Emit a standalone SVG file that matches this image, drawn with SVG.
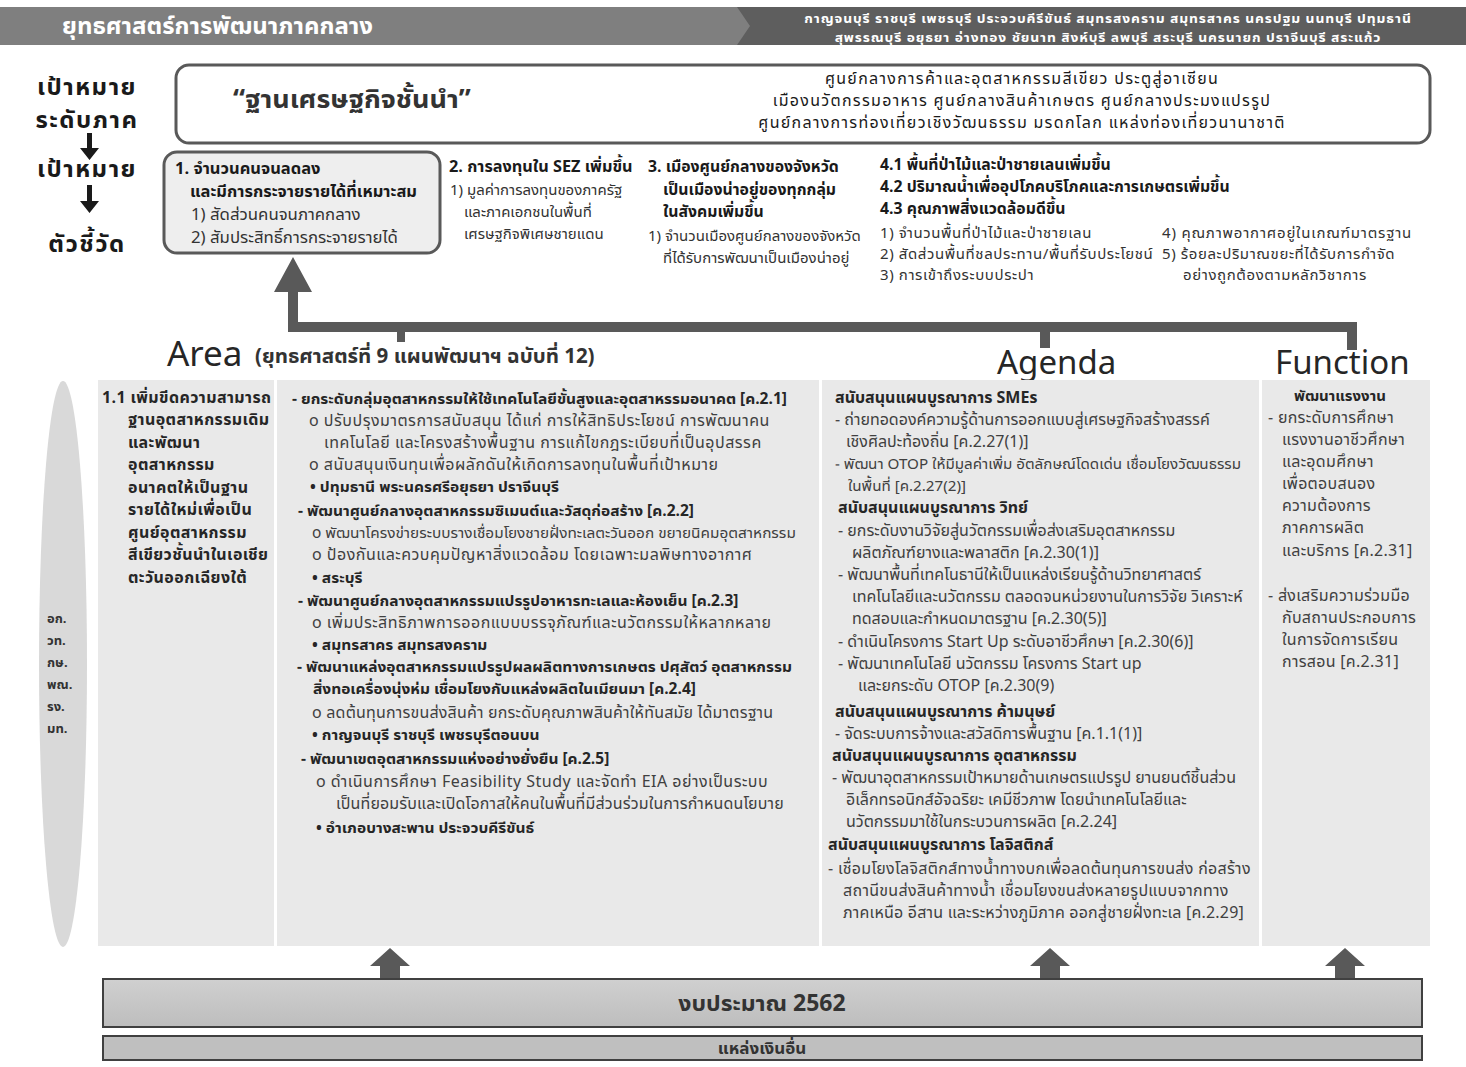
<svg xmlns="http://www.w3.org/2000/svg" width="1466" height="1067" viewBox="0 0 1466 1067">
<style>
text{font-family:"Noto Sans Thai UI","Noto Sans Thai","Tahoma","Loma","Garuda","DejaVu Sans",sans-serif;fill:#333}
.hd{fill:#fff;font-weight:bold}
.lbl{font-size:24px;font-weight:bold;fill:#1a1a1a;text-anchor:middle;letter-spacing:1.5px}
.goal{font-size:16px;fill:#1a1a1a;text-anchor:middle;letter-spacing:1.3px}
.ib{font-size:15.8px;font-weight:bold;fill:#1a1a1a}
.ir{font-size:15px;fill:#333}
.big{font-size:33px;fill:#262626}
.b1{font-size:16px;font-weight:bold;fill:#262626;letter-spacing:0.4px}
.b{font-size:15.5px;font-weight:bold;fill:#262626}
.r{font-size:16px;fill:#404040;letter-spacing:0.5px}
.ag{font-size:16px;fill:#404040}
.agb{font-size:16px;font-weight:bold;fill:#262626}
.fn{font-size:16px;fill:#404040;letter-spacing:0.3px}
.panel{fill:#e9e9e9}
.arr{fill:#595959}
.ab{font-size:13px;font-weight:bold;fill:#333}
</style>
<defs>
<linearGradient id="bud" x1="0" y1="0" x2="0" y2="1">
<stop offset="0" stop-color="#d0d0d0"/>
<stop offset="1" stop-color="#bdbdbd"/>
</linearGradient>
</defs>

<g id="header">
<rect x="600" y="7" width="866" height="38" fill="#5e5e5e"/>
<polygon points="0,7 737,7 750,26 737,45 0,45" fill="#7f7f7f"/>
<text class="hd" x="62" y="34" font-size="24">ยุทธศาสตร์การพัฒนาภาคกลาง</text>
<text class="hd" x="1108" y="23" font-size="13.8" letter-spacing="0.9" text-anchor="middle">กาญจนบุรี ราชบุรี เพชรบุรี ประจวบคีรีขันธ์ สมุทรสงคราม สมุทรสาคร นครปฐม นนทบุรี ปทุมธานี</text>
<text class="hd" x="1108" y="42" font-size="13.8" letter-spacing="0.9" text-anchor="middle">สุพรรณบุรี อยุธยา อ่างทอง ชัยนาท สิงห์บุรี ลพบุรี สระบุรี นครนายก ปราจีนบุรี สระแก้ว</text>
</g>

<g id="left-labels">
<text class="lbl" x="87" y="95">เป้าหมาย</text>
<text class="lbl" x="87" y="128">ระดับภาค</text>
<text class="lbl" x="87" y="177">เป้าหมาย</text>
<text class="lbl" x="87" y="252">ตัวชี้วัด</text>
<path d="M87 133 h5 v15 h7 l-9.5 12 l-9.5 -12 h7 z" fill="#1a1a1a"/>
<path d="M87 185 h5 v16 h7 l-9.5 12 l-9.5 -12 h7 z" fill="#1a1a1a"/>
</g>

<g id="goal">
<rect x="176" y="65" width="1254" height="78" rx="13" fill="#fff" stroke="#595959" stroke-width="3"/>
<text x="233" y="108" font-size="27" font-weight="bold" fill="#1a1a1a">“ฐานเศรษฐกิจชั้นนำ”</text>
<text class="goal" x="1022" y="84">ศูนย์กลางการค้าและอุตสาหกรรมสีเขียว ประตูสู่อาเซียน</text>
<text class="goal" x="1022" y="106">เมืองนวัตกรรมอาหาร ศูนย์กลางสินค้าเกษตร ศูนย์กลางประมงแปรรูป</text>
<text class="goal" x="1022" y="128">ศูนย์กลางการท่องเที่ยวเชิงวัฒนธรรม มรดกโลก แหล่งท่องเที่ยวนานาชาติ</text>
</g>

<g id="indicator1">
<rect x="164" y="152" width="276" height="101" rx="13" fill="#eeeeee" stroke="#595959" stroke-width="3"/>
<text class="ib" x="175" y="174" style="font-size:16.5px">1. จำนวนคนจนลดลง</text>
<text class="ib" x="190" y="197" style="font-size:16.5px">และมีการกระจายรายได้ที่เหมาะสม</text>
<text class="ir" x="191" y="220" style="font-size:16.8px">1) สัดส่วนคนจนภาคกลาง</text>
<text class="ir" x="191" y="243" style="font-size:16.8px">2) สัมประสิทธิ์การกระจายรายได้</text>
</g>

<g id="indicator2">
<text class="ib" x="449" y="172" style="font-size:16.3px">2. การลงทุนใน SEZ เพิ่มขึ้น</text>
<text class="ir" x="450" y="195">1) มูลค่าการลงทุนของภาครัฐ</text>
<text class="ir" x="464" y="217">และภาคเอกชนในพื้นที่</text>
<text class="ir" x="464" y="239">เศรษฐกิจพิเศษชายแดน</text>
</g>

<g id="indicator3">
<text class="ib" x="648" y="172">3. เมืองศูนย์กลางของจังหวัด</text>
<text class="ib" x="663" y="195">เป็นเมืองน่าอยู่ของทุกกลุ่ม</text>
<text class="ib" x="663" y="217">ในสังคมเพิ่มขึ้น</text>
<text class="ir" x="648" y="241">1) จำนวนเมืองศูนย์กลางของจังหวัด</text>
<text class="ir" x="663" y="263">ที่ได้รับการพัฒนาเป็นเมืองน่าอยู่</text>
</g>

<g id="indicator4">
<text class="ib" x="880" y="170">4.1 พื้นที่ป่าไม้และป่าชายเลนเพิ่มขึ้น</text>
<text class="ib" x="880" y="192">4.2 ปริมาณน้ำเพื่ออุปโภคบริโภคและการเกษตรเพิ่มขึ้น</text>
<text class="ib" x="880" y="214">4.3 คุณภาพสิ่งแวดล้อมดีขึ้น</text>
<text class="ir" x="880" y="238" letter-spacing="0.6">1) จำนวนพื้นที่ป่าไม้และป่าชายเลน</text>
<text class="ir" x="880" y="259" letter-spacing="0.6">2) สัดส่วนพื้นที่ชลประทาน/พื้นที่รับประโยชน์</text>
<text class="ir" x="880" y="280" letter-spacing="0.6">3) การเข้าถึงระบบประปา</text>
<text class="ir" x="1162" y="238" letter-spacing="0.8">4) คุณภาพอากาศอยู่ในเกณฑ์มาตรฐาน</text>
<text class="ir" x="1162" y="259" letter-spacing="0.6">5) ร้อยละปริมาณขยะที่ได้รับการกำจัด</text>
<text class="ir" x="1183" y="280" letter-spacing="0.6">อย่างถูกต้องตามหลักวิชาการ</text>
</g>

<g id="connectors">
<polygon class="arr" points="293,257 274,292 288,292 288,332 1357,332 1357,322 298,322 298,292 312,292"/>
<rect class="arr" x="1347" y="322" width="10" height="28"/>
<rect class="arr" x="1040" y="322" width="10" height="26"/>
<rect class="arr" x="397" y="322" width="8" height="20"/>
<polygon class="arr" points="390,948 370,966 380,966 380,978 400,978 400,966 410,966"/>
<polygon class="arr" points="1050,948 1030,966 1040,966 1040,978 1060,978 1060,966 1070,966"/>
<polygon class="arr" points="1345,948 1325,966 1335,966 1335,978 1355,978 1355,966 1365,966"/>
</g>

<g id="headings">
<text class="big" x="167" y="366" style="font-size:35px">Area</text>
<text x="255" y="363" font-size="20.5" font-weight="bold" fill="#262626">(ยุทธศาสตร์ที่ 9 แผนพัฒนาฯ ฉบับที่ 12)</text>
<text class="big" x="997" y="374">Agenda</text>
<text class="big" x="1275" y="374">Function</text>
</g>

<g id="agencies">
<ellipse cx="63" cy="664" rx="24" ry="283" fill="#d9d9d9"/>
<text class="ab" x="47" y="623">อก.</text>
<text class="ab" x="47" y="645">วท.</text>
<text class="ab" x="47" y="667">กษ.</text>
<text class="ab" x="47" y="689">พณ.</text>
<text class="ab" x="47" y="711">รง.</text>
<text class="ab" x="47" y="733">มท.</text>
</g>

<g id="area-col1">
<rect class="panel" x="98" y="380" width="176" height="566"/>
<text class="b1" x="102" y="403">1.1 เพิ่มขีดความสามารถ</text>
<text class="b1" x="128" y="425">ฐานอุตสาหกรรมเดิม</text>
<text class="b1" x="128" y="448">และพัฒนา</text>
<text class="b1" x="128" y="470">อุตสาหกรรม</text>
<text class="b1" x="128" y="493">อนาคตให้เป็นฐาน</text>
<text class="b1" x="128" y="515">รายได้ใหม่เพื่อเป็น</text>
<text class="b1" x="128" y="538">ศูนย์อุตสาหกรรม</text>
<text class="b1" x="128" y="560">สีเขียวชั้นนำในเอเชีย</text>
<text class="b1" x="128" y="583">ตะวันออกเฉียงใต้</text>
</g>

<g id="area-col2">
<rect class="panel" x="277" y="380" width="542" height="566"/>
<text class="b" x="292" y="404">-  ยกระดับกลุ่มอุตสาหกรรมให้ใช้เทคโนโลยีขั้นสูงและอุตสาหรรมอนาคต [ค.2.1]</text>
<text class="r" x="309" y="426">o  ปรับปรุงมาตรการสนับสนุน ได้แก่ การให้สิทธิประโยชน์ การพัฒนาคน</text>
<text class="r" x="324" y="448">เทคโนโลยี และโครงสร้างพื้นฐาน การแก้ไขกฎระเบียบที่เป็นอุปสรรค</text>
<text class="r" x="309" y="470">o  สนับสนุนเงินทุนเพื่อผลักดันให้เกิดการลงทุนในพื้นที่เป้าหมาย</text>
<text class="b" x="310" y="492">•  ปทุมธานี พระนครศรีอยุธยา ปราจีนบุรี</text>
<text class="b" x="298" y="516">-  พัฒนาศูนย์กลางอุตสาหกรรมซิเมนต์และวัสดุก่อสร้าง [ค.2.2]</text>
<text class="r" x="312" y="538" style="font-size:15.4px;letter-spacing:0">o  พัฒนาโครงข่ายระบบรางเชื่อมโยงชายฝั่งทะเลตะวันออก ขยายนิคมอุตสาหกรรม</text>
<text class="r" x="312" y="560">o  ป้องกันและควบคุมปัญหาสิ่งแวดล้อม โดยเฉพาะมลพิษทางอากาศ</text>
<text class="b" x="312" y="583">•  สระบุรี</text>
<text class="b" x="298" y="606">-  พัฒนาศูนย์กลางอุตสาหกรรมแปรรูปอาหารทะเลและห้องเย็น [ค.2.3]</text>
<text class="r" x="312" y="628">o  เพิ่มประสิทธิภาพการออกแบบบรรจุภัณฑ์และนวัตกรรมให้หลากหลาย</text>
<text class="b" x="312" y="650">•  สมุทรสาคร สมุทรสงคราม</text>
<text class="b" x="297" y="672">-  พัฒนาแหล่งอุตสาหกรรมแปรรูปผลผลิตทางการเกษตร ปศุสัตว์ อุตสาหกรรม</text>
<text class="b" x="313" y="694">สิ่งทอเครื่องนุ่งห่ม เชื่อมโยงกับแหล่งผลิตในเมียนมา [ค.2.4]</text>
<text class="r" x="312" y="718" style="letter-spacing:0.2px">o  ลดต้นทุนการขนส่งสินค้า ยกระดับคุณภาพสินค้าให้ทันสมัย ได้มาตรฐาน</text>
<text class="b" x="312" y="740">•  กาญจนบุรี ราชบุรี เพชรบุรีตอนบน</text>
<text class="b" x="301" y="764">-  พัฒนาเขตอุตสาหกรรมแห่งอย่างยั่งยืน [ค.2.5]</text>
<text class="r" x="316" y="787">o  ดำเนินการศึกษา Feasibility Study และจัดทำ EIA อย่างเป็นระบบ</text>
<text class="r" x="336" y="809" style="letter-spacing:0.15px">เป็นที่ยอมรับและเปิดโอกาสให้คนในพื้นที่มีส่วนร่วมในการกำหนดนโยบาย</text>
<text class="b" x="316" y="833">•  อำเภอบางสะพาน ประจวบคีรีขันธ์</text>
</g>

<g id="agenda-col">
<rect class="panel" x="822" y="380" width="437" height="566"/>
<text class="agb" x="835" y="403">สนับสนุนแผนบูรณาการ SMEs</text>
<text class="ag" x="835" y="425">-  ถ่ายทอดองค์ความรู้ด้านการออกแบบสู่เศรษฐกิจสร้างสรรค์</text>
<text class="ag" x="846" y="447">เชิงศิลปะท้องถิ่น [ค.2.27(1)]</text>
<text class="ag" x="835" y="469" style="font-size:15.2px">-  พัฒนา OTOP ให้มีมูลค่าเพิ่ม อัตลักษณ์โดดเด่น เชื่อมโยงวัฒนธรรม</text>
<text class="ag" x="848" y="491" style="font-size:15.2px">ในพื้นที่ [ค.2.27(2)]</text>
<text class="agb" x="838" y="513">สนับสนุนแผนบูรณาการ วิทย์</text>
<text class="ag" x="838" y="536">-  ยกระดับงานวิจัยสู่นวัตกรรมเพื่อส่งเสริมอุตสาหกรรม</text>
<text class="ag" x="852" y="558">ผลิตภัณฑ์ยางและพลาสติก [ค.2.30(1)]</text>
<text class="ag" x="838" y="580">-  พัฒนาพื้นที่เทคโนธานีให้เป็นแหล่งเรียนรู้ด้านวิทยาศาสตร์</text>
<text class="ag" x="852" y="602">เทคโนโลยีและนวัตกรรม ตลอดจนหน่วยงานในการวิจัย วิเคราะห์</text>
<text class="ag" x="852" y="624">ทดสอบและกำหนดมาตรฐาน [ค.2.30(5)]</text>
<text class="ag" x="838" y="647">-  ดำเนินโครงการ Start Up ระดับอาชีวศึกษา [ค.2.30(6)]</text>
<text class="ag" x="838" y="669">-  พัฒนาเทคโนโลยี นวัตกรรม โครงการ Start up</text>
<text class="ag" x="858" y="691">และยกระดับ OTOP [ค.2.30(9)</text>
<text class="agb" x="835" y="717">สนับสนุนแผนบูรณาการ ค้ามนุษย์</text>
<text class="ag" x="835" y="739">-  จัดระบบการจ้างและสวัสดิการพื้นฐาน [ค.1.1(1)]</text>
<text class="agb" x="832" y="761">สนับสนุนแผนบูรณาการ อุตสาหกรรม</text>
<text class="ag" x="832" y="783">-  พัฒนาอุตสาหกรรมเป้าหมายด้านเกษตรแปรรูป ยานยนต์ชิ้นส่วน</text>
<text class="ag" x="846" y="805">อิเล็กทรอนิกส์อัจฉริยะ เคมีชีวภาพ โดยนำเทคโนโลยีและ</text>
<text class="ag" x="846" y="827">นวัตกรรมมาใช้ในกระบวนการผลิต [ค.2.24]</text>
<text class="agb" x="828" y="850">สนับสนุนแผนบูรณาการ โลจิสติกส์</text>
<text class="ag" x="828" y="874" letter-spacing="0.3">-  เชื่อมโยงโลจิสติกส์ทางน้ำทางบกเพื่อลดต้นทุนการขนส่ง ก่อสร้าง</text>
<text class="ag" x="843" y="896" letter-spacing="0.3">สถานีขนส่งสินค้าทางน้ำ เชื่อมโยงขนส่งหลายรูปแบบจากทาง</text>
<text class="ag" x="843" y="918" letter-spacing="0.2">ภาคเหนือ อีสาน และระหว่างภูมิภาค ออกสู่ชายฝั่งทะเล [ค.2.29]</text>
</g>

<g id="function-col">
<rect class="panel" x="1262" y="380" width="168" height="566"/>
<text class="agb" x="1294" y="401" style="font-size:15px">พัฒนาแรงงาน</text>
<text class="fn" x="1268" y="423">-  ยกระดับการศึกษา</text>
<text class="fn" x="1282" y="445">แรงงานอาชีวศึกษา</text>
<text class="fn" x="1282" y="467">และอุดมศึกษา</text>
<text class="fn" x="1282" y="489">เพื่อตอบสนอง</text>
<text class="fn" x="1282" y="511">ความต้องการ</text>
<text class="fn" x="1282" y="533">ภาคการผลิต</text>
<text class="fn" x="1282" y="556">และบริการ [ค.2.31]</text>
<text class="fn" x="1268" y="601">-  ส่งเสริมความร่วมมือ</text>
<text class="fn" x="1282" y="623">กับสถานประกอบการ</text>
<text class="fn" x="1282" y="645">ในการจัดการเรียน</text>
<text class="fn" x="1282" y="667">การสอน [ค.2.31]</text>
</g>

<g id="budget">
<rect x="103" y="979" width="1319" height="48" fill="url(#bud)" stroke="#404040" stroke-width="2"/>
<text x="762" y="1011" font-size="23" font-weight="bold" fill="#1a1a1a" text-anchor="middle">งบประมาณ 2562</text>
</g>
<g id="other-funds">
<rect x="103" y="1036" width="1319" height="24" fill="#bfbfbf" stroke="#404040" stroke-width="2"/>
<text x="762" y="1054" font-size="17" font-weight="bold" fill="#1a1a1a" text-anchor="middle">แหล่งเงินอื่น</text>
</g>
</svg>
